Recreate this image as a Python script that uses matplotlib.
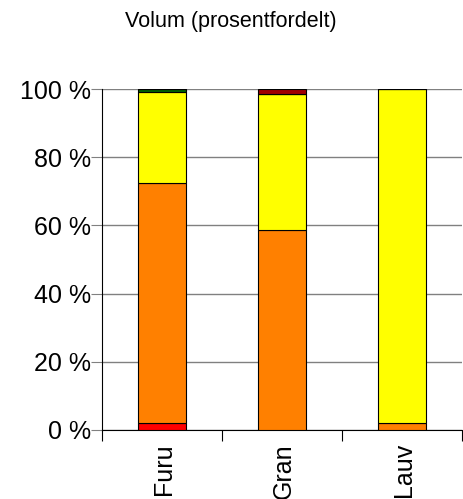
import numpy as np
import matplotlib.pyplot as plt
from matplotlib.transforms import ScaledTranslation

plt.rcParams['font.family'] = ['Liberation Sans', 'DejaVu Sans']

# Data (prosent av volum per treslag)
kategorier = ['Furu', 'Gran', 'Lauv']
rod = [2.0, 0.0, 0.0]
oransje = [70.3, 58.7, 2.0]
gul = [26.9, 39.8, 98.0]
morkegronn = [0.8, 0.0, 0.0]
morkerod = [0.0, 1.5, 0.0]

lag = [(rod, '#FF0000'), (oransje, '#FF8000'), (gul, '#FFFF00'),
       (morkegronn, '#006400'), (morkerod, '#A00000')]

fig = plt.figure(figsize=(4.64, 4.99), dpi=100)
ax = fig.add_axes([0.2198, 0.1383, 0.7759, 0.6833])

x = np.arange(len(kategorier))
bunn = np.zeros(len(kategorier))
for verdier, farge in lag:
    v = np.array(verdier)
    ax.bar(x, v, bottom=bunn, width=0.4, color=farge, edgecolor='black',
           linewidth=0.8, zorder=3)
    bunn += v

ax.set_xlim(-0.5, 2.5)
ax.set_ylim(0, 100)
ax.set_yticks([0, 20, 40, 60, 80, 100])
ax.set_yticklabels(['0 %', '20 %', '40 %', '60 %', '80 %', '100 %'], fontsize=18)
ax.yaxis.grid(True, color='#808080', linewidth=1, zorder=0)
ax.tick_params(axis='y', length=8, color='#808080', pad=0)

# x-akse: streker mellom kategoriene
ax.set_xticks([-0.5, 0.5, 1.5, 2.5])
ax.set_xticklabels([])
ax.tick_params(axis='x', length=8, direction='out', color='black')
for i, navn in enumerate(kategorier):
    ax.text(i, 0, navn, rotation=90, ha='center', va='top', fontsize=18,
            transform=ax.get_xaxis_transform() + ScaledTranslation(2/100, -13/100, fig.dpi_scale_trans))

for s in ['top', 'right']:
    ax.spines[s].set_visible(False)
ax.spines['left'].set_color('black')
ax.spines['bottom'].set_color('black')

fig.text(231/464, 1 - 21/499, 'Volum (prosentfordelt)', ha='center', va='center', fontsize=15.5)

fig.savefig('out.png', dpi=100)
